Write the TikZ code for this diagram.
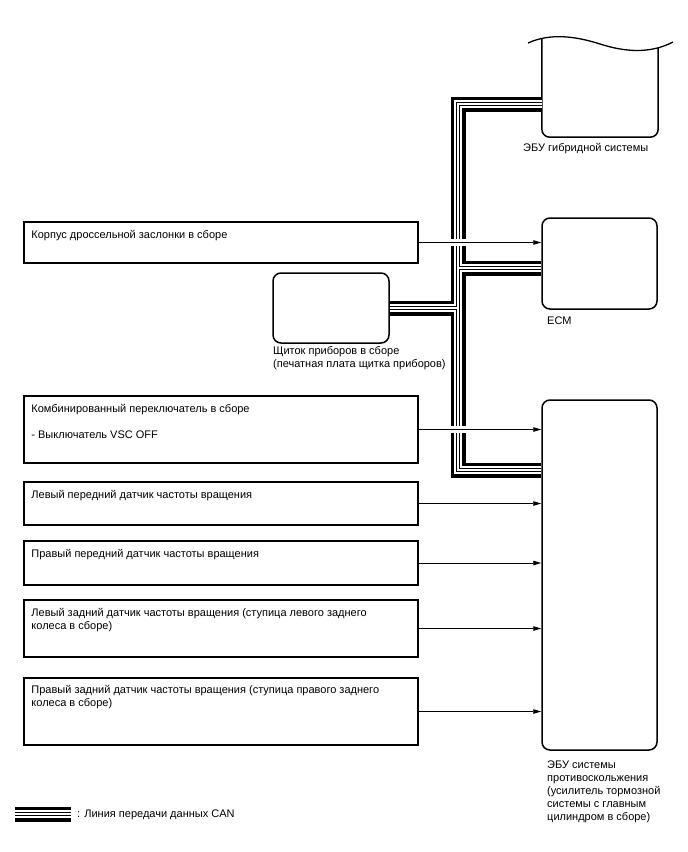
\documentclass[tikz,border=0pt]{standalone}
\usepackage{fontspec}
\setmainfont{Liberation Sans}
\usetikzlibrary{arrows.meta,intersections,calc}
\begin{document}
\begin{tikzpicture}[x=1pt,y=-1pt,
  lbox/.style={draw, line width=1.5pt, rectangle, inner sep=0pt, minimum width=394pt},
  rbox/.style={draw, line width=1.5pt, rectangle, rounded corners=8pt, inner sep=0pt},
  txt/.style={font=\fontsize{11}{13}\selectfont, inner sep=0pt, align=left},
  arr/.style={line width=0.9pt, -{Triangle[length=8pt,width=4.5pt]}}]
\useasboundingbox (0,0) rectangle (688,852);
% right side units
\node[inner sep=0pt, minimum width=116pt, minimum height=99pt] (hyb) at (600,87.5) {};
\node[rbox, minimum width=115pt, minimum height=91pt] (ecm) at (599.5,263.5) {};
\node[rbox, minimum width=116pt, minimum height=70pt] (cl) at (331,308) {};
\node[rbox, minimum width=115pt, minimum height=350pt] (abs) at (599.5,575) {};
% hybrid ECU with wavy top
\draw[name path=wave, line width=1.3pt] (528,43) .. controls (550,33) and (575,36) .. (600,44) .. controls (625,52) and (650,54) .. (673,42);
\path[name path=hl] ($(hyb.north west)+(0,-15)$) -- (hyb.south west);
\path[name path=hr] ($(hyb.north east)+(0,-15)$) -- (hyb.south east);
\path[name intersections={of=wave and hl, by=iL}];
\path[name intersections={of=wave and hr, by=iR}];
\draw[line width=1.5pt, rounded corners=8pt] (iL) -- (hyb.south west) -- (hyb.south east) -- (iR);
% left boxes
\node[lbox, minimum height=41pt] (thr) at (221,242.5) {};
\node[lbox, minimum height=67pt] (comb) at (221,429.5) {};
\node[lbox, minimum height=43pt] (lf) at (221,503.5) {};
\node[lbox, minimum height=44pt] (rf) at (221,563) {};
\node[lbox, minimum height=57pt] (lr) at (221,628.5) {};
\node[lbox, minimum height=67pt] (rr) at (221,711.5) {};
% texts (base anchor of a multi-line node = baseline of its last line)
\node[txt, anchor=base west] (thrt) at ($(thr.north west)+(8,17)$) {Корпус дроссельной заслонки в сборе};
\node[txt, anchor=base west] (combt) at ($(comb.north west)+(8,43)$) {Комбинированный переключатель в сборе\\[13pt]- Выключатель VSC OFF};
\node[txt, anchor=base west] (lft) at ($(lf.north west)+(8,17)$) {Левый передний датчик частоты вращения};
\node[txt, anchor=base west] (rft) at ($(rf.north west)+(8,17)$) {Правый передний датчик частоты вращения};
\node[txt, anchor=base west] (lrt) at ($(lr.north west)+(8,30)$) {Левый задний датчик частоты вращения (ступица левого заднего\\колеса в сборе)};
\node[txt, anchor=base west] (rrt) at ($(rr.north west)+(8,29)$) {Правый задний датчик частоты вращения (ступица правого заднего\\колеса в сборе)};
\node[txt, anchor=base west] (hybt) at (523,151) {ЭБУ гибридной системы};
\node[txt, anchor=base west] (ecmt) at (547,324.5) {ECM};
\node[txt, anchor=base west] (clt) at (273,367) {Щиток приборов в сборе\\(печатная плата щитка приборов)};
\node[txt, anchor=base west] (abst) at (547,820) {ЭБУ системы\\противоскольжения\\(усилитель тормозной\\системы с главным\\цилиндром в сборе)};
\node[txt, anchor=base west] (legt) at (77,817) {: Линия передачи данных CAN};
% CAN bus
\coordinate (bt) at (458,104);
\coordinate (bb) at (458,470);
\coordinate (je) at (458,268);
\coordinate (jc) at (458,308);
\coordinate (lg1) at (15,814);
\coordinate (lg2) at (71,814);
\foreach \w/\c in {15/black, 8.5/white, 4.5/black, 1.5/white} {
  \draw[line width=\w pt, draw=\c, line join=miter, line cap=butt]
    (bt -| hyb.west) -- (bt) -- (bb) -- (bb -| abs.west)
    (je) -- (je -| ecm.west)
    (cl.east) -- (jc)
    (lg1) -- (lg2);
}
% gaps where signal lines cross the bus
\fill[white] ($(thr.east -| bt)+(-9,-3.5)$) rectangle ($(thr.east -| bt)+(9,3.5)$);
\fill[white] ($(comb.east -| bt)+(-9,-3.5)$) rectangle ($(comb.east -| bt)+(9,3.5)$);
% signal arrows
\draw[arr] (thr.east) -- (thr.east -| ecm.west);
\draw[arr] (comb.east) -- (comb.east -| abs.west);
\draw[arr] (lf.east) -- (lf.east -| abs.west);
\draw[arr] (rf.east) -- (rf.east -| abs.west);
\draw[arr] (lr.east) -- (lr.east -| abs.west);
\draw[arr] (rr.east) -- (rr.east -| abs.west);
\end{tikzpicture}
\end{document}
